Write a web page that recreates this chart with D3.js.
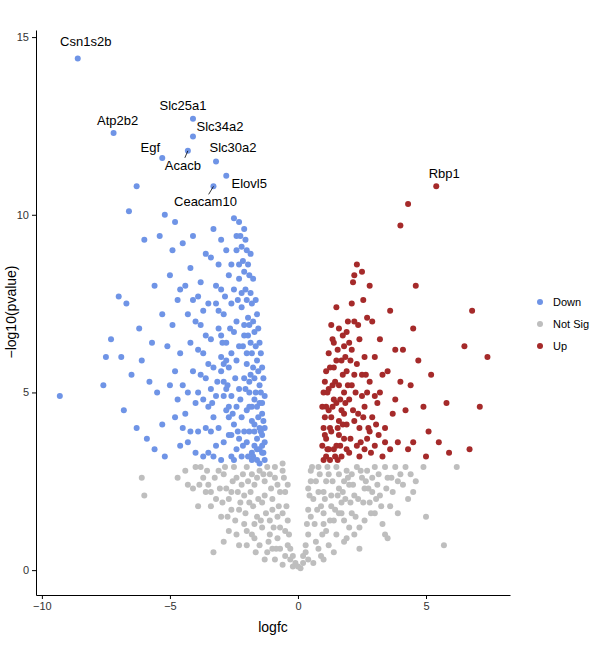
<!DOCTYPE html>
<html><head><meta charset="utf-8">
<script src="https://cdn.jsdelivr.net/npm/d3@7"></script>
<style>body{margin:0;background:#fff}text{font-family:"Liberation Sans",Arial,sans-serif}</style>
</head><body><svg></svg>
<script>
// Points: [logfc, -log10(pvalue)]
var downPts = [[-9.3,4.9],[-7.3,6.5],[-7.0,7.7],[-6.9,6.0],[-6.7,7.5],[-6.5,5.5],[-6.2,6.8],[-6.0,9.3],[-6.3,10.8],[-6.6,10.1],[-5.5,5.0],[-5.3,7.2],[-5.0,8.3],[-6.8,4.5],[-6.3,4.0],[-5.9,3.7],[-7.5,6.0],[-7.6,5.2],[-6.1,5.9],[-5.7,6.4],[-5.6,8.0],[-5.4,9.4],[-5.2,10.0],[-4.9,9.0],[-4.8,9.8],[-4.7,7.6],[-4.6,6.1],[-4.5,5.2],[-4.4,4.4],[-4.3,3.6],[-4.2,8.5],[-4.1,9.4],[-4.0,7.0],[-3.9,6.2],[-3.8,5.5],[-3.7,4.8],[-3.6,4.0],[-3.5,3.3],[-3.4,8.8],[-3.3,9.6],[-3.2,7.5],[-3.1,6.8],[-3.0,6.0],[-2.9,5.3],[-2.8,4.5],[-2.7,3.8],[-2.6,3.2],[-2.5,9.9],[-2.4,9.0],[-2.3,8.2],[-2.2,7.4],[-2.1,6.6],[-2.0,5.8],[-1.9,5.0],[-1.8,4.2],[-1.7,3.5],[-1.6,3.1],[-1.5,4.0],[-1.4,3.3],[-1.3,3.6],[-1.6,4.6],[-1.7,5.4],[-1.8,6.1],[-1.9,6.9],[-2.0,7.6],[-2.1,8.4],[-2.2,9.1],[-2.3,9.8],[-2.4,3.4],[-2.5,4.1],[-2.6,4.9],[-2.7,5.7],[-2.8,6.4],[-2.9,7.2],[-3.0,7.9],[-3.1,8.6],[-3.2,3.5],[-3.3,4.3],[-3.4,5.1],[-3.5,5.8],[-3.6,6.6],[-3.7,7.3],[-3.8,8.1],[-3.9,3.9],[-4.0,4.7],[-4.1,5.6],[-4.2,6.4],[-4.3,7.2],[-4.4,8.0],[-4.5,9.2],[-4.6,3.5],[-4.8,4.3],[-5.0,5.2],[-5.1,6.3],[-5.3,4.1],[-5.6,3.4],[-5.8,5.3],[-4.9,6.9],[-1.5,3.0],[-1.4,4.4],[-1.3,3.1],[-1.5,5.2],[-1.6,5.9],[-1.7,6.7],[-1.8,7.5],[-1.9,8.3],[-2.0,9.0],[-2.1,9.6],[-1.6,7.2],[-1.5,6.4],[-1.4,5.7],[-1.3,4.9],[-1.4,3.8],[-1.6,3.7],[-1.8,3.3],[-2.0,3.6],[-2.2,4.3],[-2.3,5.1],[-2.4,5.9],[-2.5,6.7],[-2.6,7.5],[-2.7,8.3],[-2.8,9.0],[-2.2,3.2],[-2.0,4.5],[-1.9,3.9],[-2.1,5.4],[-2.3,6.3],[-2.4,7.0],[-2.5,7.9],[-2.6,8.6],[-3.0,3.1],[-3.1,4.0],[-3.2,4.9],[-3.3,5.7],[-3.4,6.5],[-3.5,7.5],[-2.9,3.6],[-2.7,4.3],[-2.9,4.9],[-3.0,5.6],[-2.8,5.9],[-2.6,6.1],[-1.7,4.8],[-1.5,4.7],[-1.7,4.1],[-1.9,4.6],[-2.1,3.9],[-2.3,3.7],[-1.4,3.5],[-1.8,3.1],[-2.4,4.6],[-3.7,3.2],[-4.0,3.3],[-3.9,5.0],[-4.3,5.0],[-4.7,4.8],[-5.2,3.2],[-4.6,7.9],
  [-1.35,3.3],[-1.45,3.9],[-1.55,4.3],[-1.65,5.0],[-1.75,5.7],[-1.85,6.4],[-1.95,7.1],[-2.05,7.9],[-2.15,8.7],[-2.25,9.4],[-1.35,4.2],[-1.45,5.0],[-1.55,5.6],[-1.65,6.3],[-1.75,7.0],[-1.85,7.8],[-1.95,8.6],[-2.05,9.3],[-1.35,5.4],[-1.45,6.1],[-1.55,6.8],[-1.65,7.6],[-1.75,8.2],[-1.85,8.9],[-1.3,4.0],[-1.4,4.7],[-1.5,3.4],[-1.6,3.4],[-1.7,3.9],[-1.8,4.6],[-1.9,5.3],[-2.0,6.1],[-2.1,6.9],[-2.2,7.8],[-2.3,8.6],[-2.4,9.4],[-2.5,3.1],[-2.6,3.8],[-2.7,4.6],[-2.8,5.1],[-2.9,5.8],[-3.0,6.6],[-3.1,7.3],[-3.2,8.0],[-3.3,3.2],[-3.4,3.9],[-3.5,4.6],[-3.6,5.4],[-3.7,6.1],[-3.8,6.9],[-1.75,3.2],[-1.95,3.2],[-2.15,3.5],[-2.35,3.9],[-2.55,4.4],[-2.75,5.2],[-2.95,6.4],[-3.15,5.3],[-3.35,4.7],[-2.25,4.8],[-2.05,5.1],[-1.85,5.5],[-2.45,5.4],[-2.65,6.8],[-2.85,7.7],[-2.35,7.6],[-2.15,6.3],[-1.95,6.6],[-4.2,3.9],[-4.5,4.0],[-4.8,5.6],[-4.1,7.6],[-3.6,8.9],[-3.9,7.7],[-3.0,9.3]];
var upPts = [[4.3,10.3],[4.0,9.7],[6.8,7.3],[6.5,6.3],[7.4,6.0],[7.1,4.6],[6.7,3.4],[5.8,4.7],[5.2,5.5],[4.6,8.0],[5.5,3.6],[5.9,3.3],[5.1,3.9],[4.9,4.6],[4.7,5.9],[4.5,6.8],[4.3,3.4],[4.2,4.5],[4.0,5.3],[3.8,6.2],[3.6,7.3],[3.4,4.0],[3.3,3.2],[3.2,5.0],[3.0,6.0],[2.9,7.0],[2.8,8.0],[2.7,3.7],[2.6,4.6],[2.5,5.5],[2.4,6.5],[2.3,8.6],[2.2,8.3],[2.1,7.5],[2.0,3.3],[1.9,4.1],[1.8,5.0],[1.7,5.9],[1.6,6.8],[1.5,7.4],[1.4,3.4],[1.3,4.3],[1.2,5.1],[1.1,3.7],[1.0,3.1],[1.1,4.6],[1.2,6.1],[1.3,6.9],[1.4,5.7],[1.5,4.7],[1.6,3.8],[1.7,3.2],[1.8,4.4],[1.9,5.6],[2.0,6.4],[2.1,5.2],[2.2,4.2],[2.3,3.5],[2.4,4.0],[2.5,4.9],[2.6,6.0],[2.7,7.1],[2.8,5.3],[2.9,4.3],[3.0,3.5],[3.1,4.7],[3.2,6.5],[3.5,5.6],[3.7,4.4],[3.9,3.6],[4.1,6.2],[4.4,5.2],[1.0,4.0],[1.0,5.0],[1.1,5.6],[1.2,3.4],[1.3,3.9],[1.4,4.8],[1.5,5.9],[1.6,5.2],[1.7,4.5],[1.8,3.7],[1.9,3.4],[2.0,4.8],[2.1,6.2],[2.2,7.0],[2.3,5.8],[2.4,3.2],[2.6,3.4],[2.8,3.9],[3.0,4.9],[3.3,5.5],[3.6,3.4],[4.5,3.6],[5.0,3.2],[1.1,3.2],[1.5,3.5],[1.9,6.7],[2.5,8.4],[1.2,4.5],[1.4,6.4],[1.6,4.2],[1.8,6.3],[2.2,5.5],[2.7,5.0],[3.4,3.6],[3.8,4.8],
  [0.95,3.5],[1.05,4.3],[1.15,5.0],[1.25,5.7],[1.35,6.5],[1.45,3.2],[1.55,4.0],[1.65,4.8],[1.75,5.5],[1.85,6.0],[1.95,7.0],[0.95,4.6],[1.05,5.3],[1.15,3.4],[1.25,4.0],[1.35,4.6],[1.45,5.3],[1.55,6.2],[1.65,3.5],[1.75,4.1],[1.85,4.7],[1.95,5.2],[2.05,3.7],[2.15,4.5],[2.25,5.0],[2.35,4.4],[2.45,3.6],[2.55,4.3],[2.65,5.5],[2.75,4.0],[2.85,3.3],[3.05,4.1],[3.15,3.8],[1.05,3.8],[1.25,3.1],[1.35,5.2],[1.55,3.1],[1.75,6.6],[2.05,5.9],[2.35,6.9],[2.55,7.6],[2.15,8.1]];
var nsPts = [[-6.1,2.6],[-6.0,2.1],[5.7,0.7],[-3.3,0.5],[5.0,1.5],[3.5,0.9],[6.2,2.9],[-4.7,2.6],[-4.4,2.8],[-4.1,2.3],[-3.8,2.9],[-3.5,2.4],[-3.2,2.0],[-2.9,2.7],[-2.6,2.2],[-2.3,1.7],[-2.0,2.9],[-1.7,2.4],[-1.4,1.9],[-1.1,1.4],[-0.8,0.9],[-0.5,0.4],[-0.2,0.1],[0.1,0.05],[0.4,0.3],[0.7,0.8],[1.0,1.3],[1.3,1.8],[1.6,2.3],[1.9,2.8],[2.2,2.1],[2.5,2.6],[2.8,1.9],[3.1,2.4],[3.4,2.9],[3.7,2.2],[4.0,2.7],[4.3,2.0],[4.6,2.5],[4.9,2.9],[-3.0,1.5],[-2.7,1.1],[-2.4,2.6],[-2.1,1.3],[-1.8,1.0],[-1.5,0.7],[-1.2,0.5],[-0.9,0.3],[-0.6,0.15],[0.6,0.2],[0.9,0.4],[1.2,0.7],[1.5,1.0],[1.8,1.4],[2.1,1.6],[2.4,1.2],[2.7,2.8],[3.0,1.6],[3.3,1.3],[3.6,1.8],[-1.2,2.9],[-0.9,2.6],[-0.7,2.2],[-0.6,1.6],[-0.5,1.1],[-0.4,0.7],[0.4,1.0],[0.5,1.5],[0.6,2.0],[0.7,2.5],[0.8,2.9],[1.0,2.2],[1.2,2.7],[-1.0,2.0],[-1.3,2.5],[-1.6,1.5],[-1.9,1.9],[-2.2,2.4],[-2.5,2.9],[-2.8,2.3],[-3.1,2.8],[-3.4,1.8],[-3.7,2.6],[-4.0,2.9],[1.4,1.4],[1.7,1.9],[2.0,2.4],[2.3,2.9],[2.6,2.3],[2.9,2.6],[3.2,2.1],[3.5,2.6],[3.8,2.9],[4.1,2.4],[4.4,2.7],[-0.3,0.3],[0.3,0.5],[-0.8,1.5],[0.9,1.8],[-1.1,1.0],[1.1,1.1],[-0.7,0.6],[0.8,0.6],[-2.0,1.1],[2.0,1.2],[-1.4,1.2],[1.6,1.6],[-2.6,1.7],[2.9,2.2],[-0.9,2.9],[1.5,2.9],[-1.5,2.8],[2.1,2.7],[-1.8,2.7],[-2.1,2.1],[1.8,2.5],[3.0,2.9],[-3.6,2.2],[0.5,2.8],[-0.6,2.8],[-0.4,2.4],[0.4,2.3],[-1.7,0.9],[1.9,0.9],[-2.3,0.7],[2.4,0.6],
  [-0.3,0.6],[-0.35,1.0],[-0.4,1.4],[-0.45,1.8],[-0.5,2.2],[-0.55,2.6],[-0.6,3.0],[-0.7,1.2],[-0.75,1.8],[-0.8,2.4],[-0.85,0.6],[-0.95,1.2],[-1.0,1.7],[-1.05,2.3],[-1.1,2.7],[-1.15,0.8],[-1.25,1.6],[-1.3,2.1],[-1.35,2.7],[-1.45,1.4],[-1.55,2.0],[-1.6,2.6],[-1.7,1.3],[-1.75,1.8],[-1.85,2.2],[-1.95,2.5],[-2.05,1.6],[-2.15,2.7],[-2.25,1.9],[-2.35,2.2],[-2.45,1.4],[-2.55,2.5],[-2.7,2.0],[-2.85,2.9],[-2.95,1.9],[-3.05,2.3],[-3.25,2.6],[-3.4,2.2],[-3.55,2.8],[-3.85,2.4],[-4.3,2.4],[-2.75,1.5],[-2.4,1.0],[-2.0,0.7],[-1.65,0.5],[-1.3,0.3],[-1.0,0.6],[0.3,0.7],[0.35,1.3],[0.4,1.7],[0.45,2.1],[0.5,2.5],[0.55,2.9],[0.65,1.3],[0.75,1.7],[0.8,2.2],[0.85,2.7],[0.95,1.0],[1.0,1.6],[1.05,2.0],[1.1,2.5],[1.15,2.9],[1.25,1.4],[1.3,2.1],[1.35,2.5],[1.45,1.7],[1.55,2.1],[1.6,2.7],[1.7,1.6],[1.75,2.2],[1.85,2.0],[1.95,2.6],[2.05,1.9],[2.15,2.4],[2.25,1.5],[2.35,2.0],[2.45,2.8],[2.55,1.9],[2.65,2.5],[2.75,2.3],[2.85,1.6],[3.05,2.0],[3.15,2.7],[3.25,1.8],[3.45,2.3],[3.65,2.6],[3.9,2.5],[4.2,2.9],[4.5,2.2],[2.6,1.4],[2.2,1.0],[1.8,0.8],[1.4,0.5],[1.0,0.3],[0.2,0.2],[-0.1,0.2],[0.0,0.1],[-0.2,0.4],[0.2,0.4],[3.4,1.0],[-2.9,0.8],[3.9,1.6],[-3.9,1.8]];
var geneLabels = [{g:"Csn1s2b",x:-8.6,y:14.4},{g:"Atp2b2",x:-7.2,y:12.3},{g:"Slc25a1",x:-4.1,y:12.7},{g:"Slc34a2",x:-4.1,y:12.2},{g:"Egf",x:-5.3,y:11.6},{g:"Acacb",x:-4.3,y:11.8},{g:"Slc30a2",x:-3.2,y:11.5},{g:"Elovl5",x:-2.8,y:11.1},{g:"Ceacam10",x:-3.3,y:10.8},{g:"Rbp1",x:5.4,y:10.8}];
var labelOffsets = {Csn1s2b:[8,-12],Atp2b2:[4,-8],Slc25a1:[-10,-9],Slc34a2:[27,-6],Egf:[-12,-6],Acacb:[-5,19],Slc30a2:[17,-9],Elovl5:[23,12],Ceacam10:[-8,20],Rbp1:[8,-8]};
var groups = ["Down","Not Sig","Up"];
var colors = ["#6F94E6","#BEBEBE","#A52A2A"];
var xTicks = [-10,-5,0,5], yTicks = [0,5,10,15];

var svg = d3.select("svg").attr("width",602).attr("height",660);
var x = d3.scaleLinear().domain([-10.23,8.28]).range([36,510]);
var y = d3.scaleLinear().domain([-0.7,15.2]).range([595,30]);
var col = d3.scaleOrdinal().domain(groups).range(colors);

function pts(data, grp){
  svg.append("g").selectAll("circle").data(data).enter().append("circle")
    .attr("cx",function(d){return x(d[0]);}).attr("cy",function(d){return y(d[1]);})
    .attr("r",3).attr("fill",col(grp));
}
pts(nsPts,"Not Sig"); pts(downPts,"Down"); pts(upPts,"Up");
var lab = geneLabels.map(function(d){return {g:d.g,x:d.x,y:d.y,grp:d.x<0?"Down":"Up"};});
pts(lab.filter(function(d){return d.grp=="Down";}).map(function(d){return [d.x,d.y];}),"Down");
pts(lab.filter(function(d){return d.grp=="Up";}).map(function(d){return [d.x,d.y];}),"Up");

// labels with small segments
var lg = svg.append("g");
lab.forEach(function(d){
  var o = labelOffsets[d.g], px=x(d.x), py=y(d.y);
  if (Math.abs(o[1])>14) lg.append("line").attr("x1",px).attr("y1",py).attr("x2",px+o[0]*0.6).attr("y2",py+o[1]-12).attr("stroke","#000").attr("stroke-width",0.8);
  lg.append("text").attr("x",px+o[0]).attr("y",py+o[1]).attr("text-anchor","middle").attr("font-size",13).text(d.g);
});

svg.append("g").attr("transform","translate(0,595)")
  .call(d3.axisBottom(x).tickValues(xTicks).tickSize(4).tickSizeOuter(0))
  .call(function(g){g.selectAll("text").attr("font-size",11).attr("fill","#333");});
svg.append("g").attr("transform","translate(36,0)")
  .call(d3.axisLeft(y).tickValues(yTicks).tickSize(4).tickSizeOuter(0))
  .call(function(g){g.selectAll("text").attr("font-size",11).attr("fill","#333");});
svg.append("text").attr("x",273).attr("y",632).attr("text-anchor","middle").attr("font-size",14).text("logfc");
svg.append("text").attr("transform","translate(16,312) rotate(-90)").attr("text-anchor","middle").attr("font-size",14).text("\u2212log10(pvalue)");

var leg = svg.append("g").selectAll("g").data(groups).enter().append("g")
  .attr("transform",function(d,i){return "translate(540,"+(302+i*22)+")";});
leg.append("circle").attr("r",3).attr("fill",function(d){return col(d);});
leg.append("text").attr("x",13).attr("y",4).attr("font-size",11).text(function(d){return d;});
</script></body></html>
